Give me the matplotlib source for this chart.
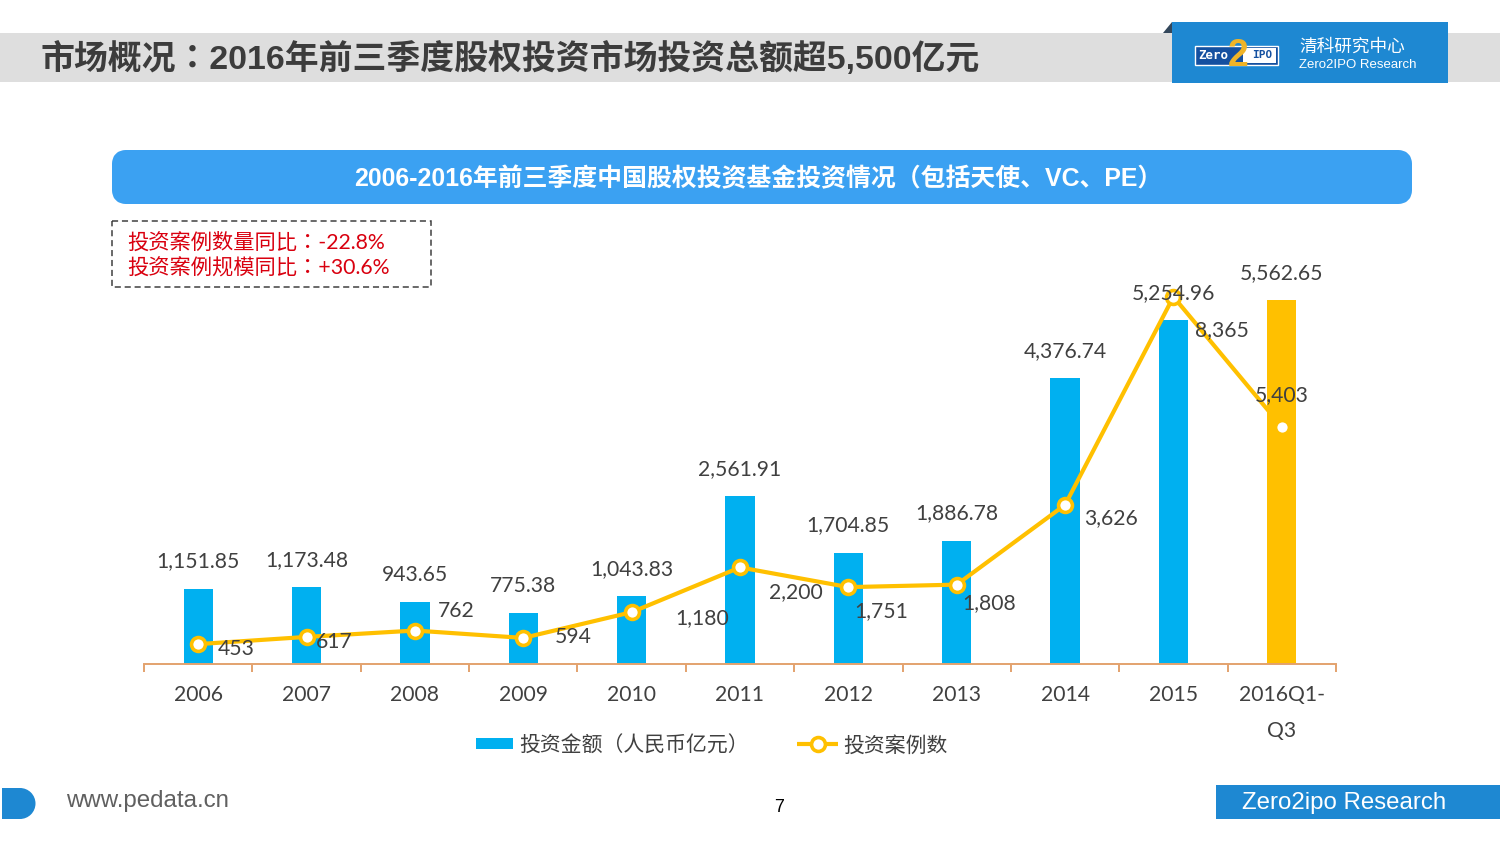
import numpy as np
import matplotlib
matplotlib.use("Agg")
import matplotlib.pyplot as plt
from matplotlib.patches import Rectangle, FancyBboxPatch, Polygon, Circle

plt.rcParams['font.family'] = ['Lato', 'Noto Sans CJK SC', 'DejaVu Sans']

# ---------- Data ----------
years = ["2006", "2007", "2008", "2009", "2010", "2011", "2012", "2013", "2014", "2015", "2016Q1-\nQ3"]
amount = [1151.85, 1173.48, 943.65, 775.38, 1043.83, 2561.91, 1704.85, 1886.78, 4376.74, 5254.96, 5562.65]
amount_labels = ["1,151.85", "1,173.48", "943.65", "775.38", "1,043.83", "2,561.91", "1,704.85", "1,886.78",
                 "4,376.74", "5,254.96", "5,562.65"]
cases = [453, 617, 762, 594, 1180, 2200, 1751, 1808, 3626, 8365, 5403]
case_labels = ["453", "617", "762", "594", "1,180", "2,200", "1,751", "1,808", "3,626", "8,365", "5,403"]

BLUE = "#00B0F0"
YELLOW = "#FFC000"
DARK = "#404040"
BRAND = "#1E88D2"
LATIN_CJK = ["Liberation Sans", "Noto Sans CJK SC"]
# TC centres the full-width colon, as the original slide does
LATIN_CJK_TC = ["Liberation Sans", "Noto Sans CJK TC"]

W, H = 1500, 844
fig = plt.figure(figsize=(W / 100, H / 100), dpi=100)

# ---------- Slide background, in pixel coords ----------
bg = fig.add_axes([0, 0, 1, 1])
bg.set_xlim(0, W)
bg.set_ylim(H, 0)
bg.axis("off")

# header band
bg.add_patch(Rectangle((0, 33), W, 49, color="#DEDEDE", lw=0))
bg.text(41, 59, "市场概况：2016年前三季度股权投资市场投资总额超5,500亿元", fontsize=24.4, fontweight="bold",
        color="#3C3C3C", va="center", family=LATIN_CJK_TC)

# logo block
bg.add_patch(Polygon([(1163, 33), (1172, 22), (1172, 33)], color="#33475B", lw=0))
bg.add_patch(Rectangle((1172, 22), 276, 61, color=BRAND, lw=0))
bg.add_patch(Rectangle((1195, 46), 83, 19, facecolor="#1450A0", edgecolor="white", lw=1))
bg.add_patch(Rectangle((1243, 48), 33, 15, color="white", lw=0))
bg.text(1213, 55.5, "Zero", color="white", fontsize=9, fontweight="bold", ha="center", va="center",
        family="DejaVu Sans Mono")
bg.text(1262, 55.5, "IPO", color="#1450A0", fontsize=8, fontweight="bold", ha="center", va="center",
        family="DejaVu Sans Mono")
bg.text(1238, 56, "2", color="#F0B428", fontsize=27, fontweight="bold", ha="center", va="center",
        family="Liberation Sans")
bg.text(1299, 47, "清科研究中心", color="white", fontsize=12.7, va="center", family="Noto Sans CJK SC")
bg.text(1299, 65, "Zero2IPO Research", color="white", fontsize=9.5, va="center", family="Liberation Sans")

# chart title banner
bg.add_patch(FancyBboxPatch((118, 156), 1288, 42, boxstyle="round,pad=0,rounding_size=8", mutation_aspect=1,
                            facecolor="#3BA1F2", edgecolor="#3BA1F2", lw=12 * 0.72, joinstyle="round"))
bg.text(758, 179, "2006-2016年前三季度中国股权投资基金投资情况（包括天使、VC、PE）", color="white", fontsize=17.9,
        fontweight="bold", ha="center", va="center", family=LATIN_CJK)

# callout box
bg.add_patch(Rectangle((111.5, 221), 319.5, 66, fill=False, edgecolor="#404040", lw=1.1, linestyle=(0, (4, 2.5))))
bg.text(127, 243, "投资案例数量同比：-22.8%", color="#D9000F", fontsize=15.3, va="center",
        family=["Lato", "Noto Sans CJK TC"])
bg.text(127, 268, "投资案例规模同比：+30.6%", color="#D9000F", fontsize=15.3, va="center",
        family=["Lato", "Noto Sans CJK TC"])

# ---------- Chart ----------
px_left, px_right, px_top, px_bottom = 144, 1336, 264, 664
ax = fig.add_axes([px_left / W, 1 - px_bottom / H, (px_right - px_left) / W, (px_bottom - px_top) / H])
ax.patch.set_alpha(0)
x = np.arange(len(years))

bar_colors = [BLUE] * (len(years) - 1) + [YELLOW]
ax.bar(x, amount, width=0.27, color=bar_colors, zorder=2)
ax.set_xlim(-0.5, len(years) - 0.5)
ax.set_ylim(0, (px_bottom - px_top) / 0.0654)
ax.set_yticks([])
for side in ["top", "left", "right"]:
    ax.spines[side].set_visible(False)
ax.spines["bottom"].set_color("#E3A26E")
ax.spines["bottom"].set_linewidth(1.4)
ax.set_xticks(x)
ax.set_xticklabels(years, fontsize=15.2, color=DARK, linespacing=2.0)
ax.set_xticks(np.arange(len(years) + 1) - 0.5, minor=True)
ax.tick_params(axis="x", which="major", length=0, pad=15)
ax.tick_params(axis="x", which="minor", length=6, width=1.4, color="#E3A26E")

ax2 = ax.twinx()
ax2.patch.set_alpha(0)
ax2.set_ylim(0, (px_bottom - px_top) / 0.0439)
ax2.set_yticks([])
for side in ["top", "left", "right", "bottom"]:
    ax2.spines[side].set_visible(False)
ax2.plot(x, cases, color=YELLOW, lw=3, marker="o", ms=10, mfc="white", mec=YELLOW, mew=2.6, zorder=3)

# value labels sit above the bars
for xi, v, s in zip(x, amount, amount_labels):
    ax2.annotate(s, (xi, v), xycoords=ax.transData, xytext=(0, 19.5), textcoords="offset points",
                 ha="center", va="center", fontsize=15.2, color=DARK, zorder=5)

# line labels were placed by hand in the source, so each gets its own nudge (points)
nudges = [(27, -3.5), (20, -3.5), (30, 14), (36, 0.5), (51, -4.5), (40, -17.5), (24, -17.5), (23, -13.5), (33, -9.5), (35, -24), (0, 23)]
for xi, v, s, (dx, dy) in zip(x, cases, case_labels, nudges):
    ax2.annotate(s, (xi, v), xytext=(dx, dy), textcoords="offset points",
                 ha="center", va="center", fontsize=15.2, color=DARK, zorder=5)

# ---------- Legend, drawn by hand ----------
bg.add_patch(Rectangle((476, 738), 37, 11, color=BLUE, lw=0))
bg.text(519, 746, "投资金额（人民币亿元）", color=DARK, fontsize=15, va="center")
bg.plot([797, 838], [744, 744], color=YELLOW, lw=3, solid_capstyle="butt")
bg.plot([818], [744], marker="o", ms=10, mfc="white", mec=YELLOW, mew=2.6)
bg.text(843, 746, "投资案例数", color=DARK, fontsize=15, va="center")

# ---------- Footer ----------
bg.add_patch(Rectangle((2, 788), 18, 31, color=BRAND, lw=0))
bg.add_patch(Circle((20, 803.5), 15.5, color=BRAND, lw=0))
bg.text(66, 801, "www.pedata.cn", color="#606060", fontsize=17.4, va="center", family="Liberation Sans")
bg.text(779, 807.5, "7", color="black", fontsize=13, ha="center", va="center", family="Liberation Sans")
bg.add_patch(Rectangle((1216, 785), 284, 34, color=BRAND, lw=0))
bg.text(1242, 803, "Zero2ipo Research", color="white", fontsize=17.3, va="center", family="Liberation Sans")

fig.savefig("out.png", dpi=100)
